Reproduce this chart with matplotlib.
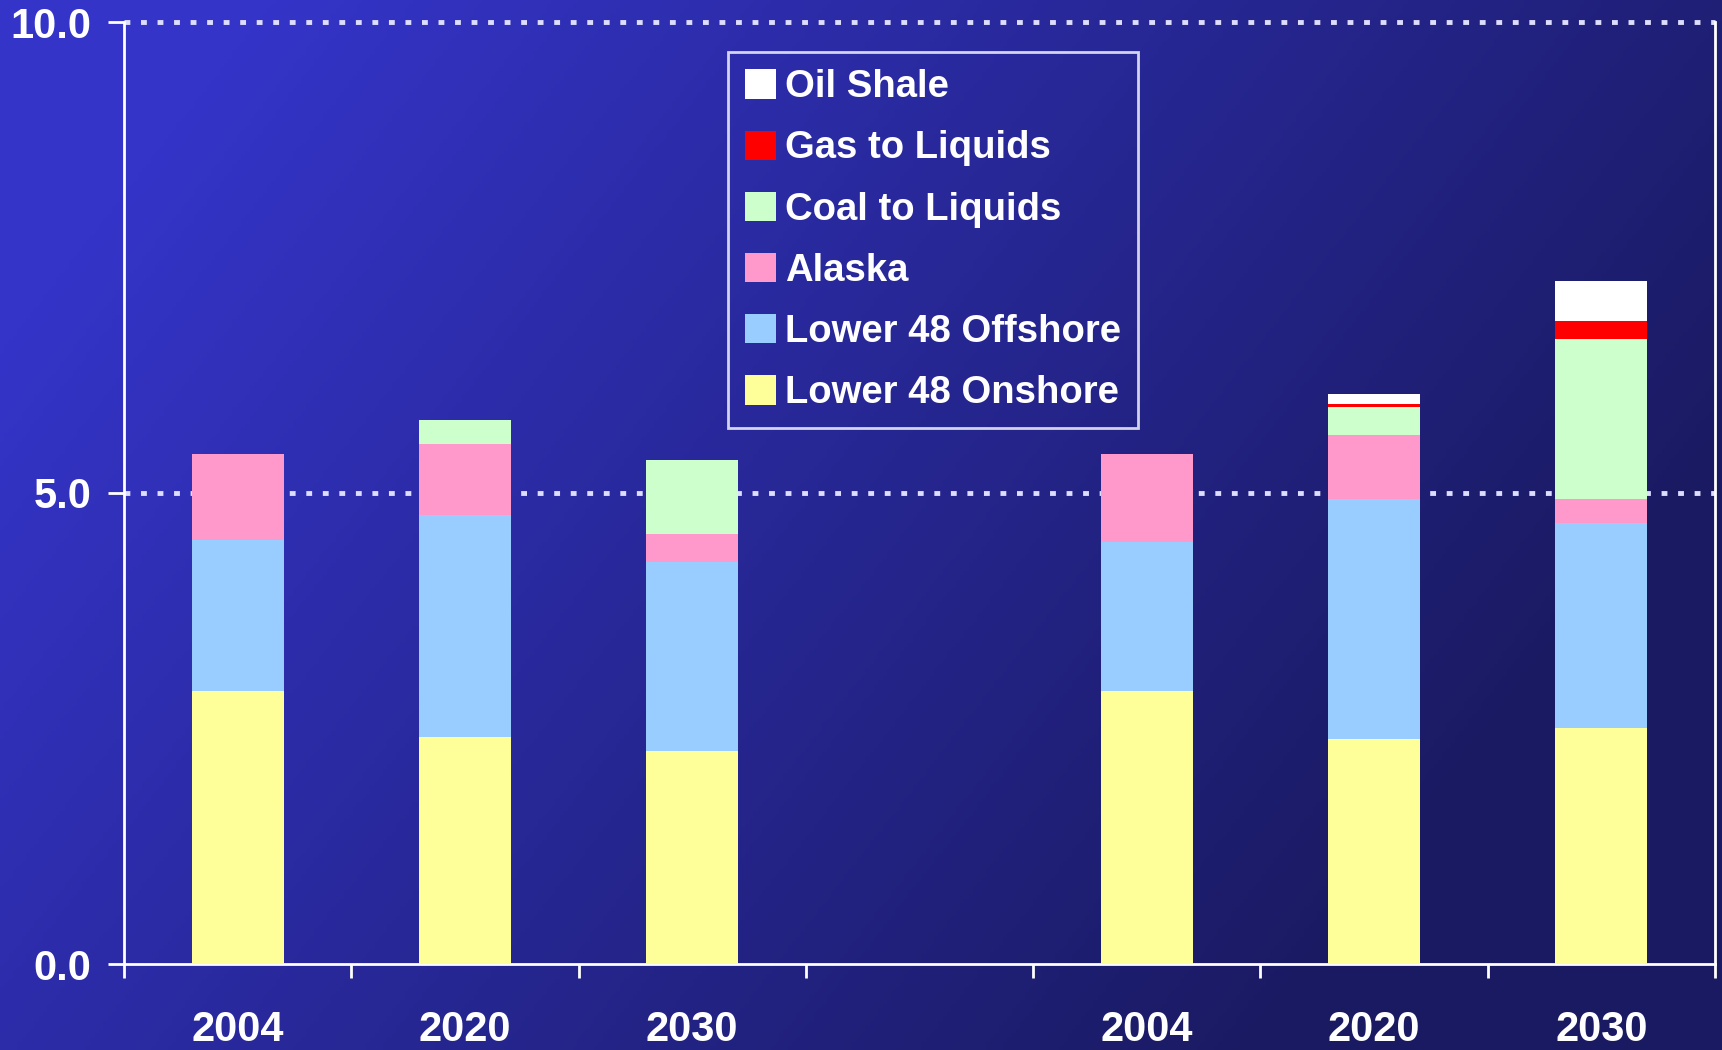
import numpy as np
import matplotlib
matplotlib.use("Agg")
import matplotlib.pyplot as plt
from matplotlib.patches import Patch

# ---- data ----
categories = ["2004", "2020", "2030", "", "2004", "2020", "2030"]
onshore   = [2.90, 2.41, 2.26, 0.0, 2.90, 2.39, 2.51]
offshore  = [1.60, 2.36, 2.01, 0.0, 1.58, 2.55, 2.17]
alaska    = [0.91, 0.75, 0.29, 0.0, 0.93, 0.68, 0.26]
coal      = [0.00, 0.26, 0.79, 0.0, 0.00, 0.29, 1.70]
gtl       = [0.00, 0.00, 0.00, 0.0, 0.00, 0.04, 0.19]
shale     = [0.00, 0.00, 0.00, 0.0, 0.00, 0.10, 0.42]

series_names = ["Lower 48 Onshore", "Lower 48 Offshore", "Alaska",
                "Coal to Liquids", "Gas to Liquids", "Oil Shale"]
series_vals = [onshore, offshore, alaska, coal, gtl, shale]
series_colors = ["#FFFF99", "#99CCFF", "#FF99CC", "#CCFFCC", "#FF0000", "#FFFFFF"]
yticks = [0.0, 5.0, 10.0]
ytick_labels = ["0.0", "5.0", "10.0"]

W, H = 1722, 1050
fig = plt.figure(figsize=(W / 100, H / 100), dpi=100)

# background gradient
bg = fig.add_axes([0, 0, 1, 1], zorder=-10)
bg.set_axis_off()
nx, ny = 400, 250
xx, yy = np.meshgrid(np.linspace(0, 1, nx), np.linspace(0, 1, ny))  # yy=0 top
f = np.clip((1 - xx) * 0.95 - yy * 0.45 + 0.2, 0, 1)
bright = np.array([52, 52, 200]) / 255
dark = np.array([26, 26, 98]) / 255
img = dark[None, None, :] + (bright - dark)[None, None, :] * f[:, :, None]
bg.imshow(img, aspect="auto", extent=[0, 1, 0, 1], origin="upper")
bg.set_xlim(0, 1)
bg.set_ylim(0, 1)

# title (mostly cut off at the top)
fig.text(0.5, 1.006, "(Million Barrels per Day)", color="#FFFF33",
         ha="center", va="bottom", fontsize=30, fontweight="bold",
         family=["Liberation Sans"])

ax = fig.add_axes([124 / W, 86 / H, (1715 - 124) / W, (964 - 22) / H])
ax.patch.set_alpha(0)

x = np.arange(len(categories))
bottom = np.zeros(len(categories))
handles = []
for name, vals, col in zip(series_names, series_vals, series_colors):
    v = np.array(vals)
    ax.bar(x, v, bottom=bottom, width=0.405, color=col, edgecolor="none",
           zorder=3, label=name)
    bottom += v
    handles.append(Patch(facecolor=col, edgecolor="none", label=name))

ax.set_xlim(-0.5, len(categories) - 0.5)
ax.set_ylim(0, 10)

for yv in [5.0, 10.0]:
    ax.axhline(yv, color="#DDDDFF", linestyle=(0, (1.2, 2.2)), linewidth=3.5,
               zorder=2, clip_on=False)

for s in ["left", "right", "bottom"]:
    ax.spines[s].set_color("white")
    ax.spines[s].set_linewidth(2)
ax.spines["top"].set_visible(False)

tick_font = dict(family="Liberation Sans", fontweight="bold",
                 fontsize=30, color="white")
ax.set_yticks(yticks)
ax.set_yticklabels(ytick_labels, **tick_font)
ax.tick_params(axis="y", colors="white", length=11.5, width=2, pad=12)

ax.set_xticks(x)
ax.set_xticklabels(categories, **tick_font)
ax.tick_params(axis="x", which="major", length=0, pad=33)
ax.set_xticks(np.arange(-0.5, len(categories)), minor=True)
ax.tick_params(axis="x", which="minor", colors="white", length=10, width=2)

leg = ax.legend(handles=handles[::-1], loc="upper left",
                bbox_to_anchor=((728 - 124) / (1715 - 124), (964 - 52) / (964 - 22)),
                frameon=True, fancybox=False, facecolor="none", edgecolor="white",
                prop={"family": "Liberation Sans", "weight": "bold", "size": 27.5},
                handlelength=0.8, handleheight=0.8, handletextpad=0.25,
                labelspacing=0.66, borderpad=0.45, borderaxespad=0)
leg.get_frame().set_linewidth(2)
for t in leg.get_texts():
    t.set_color("white")

fig.savefig("out.png", dpi=100)
